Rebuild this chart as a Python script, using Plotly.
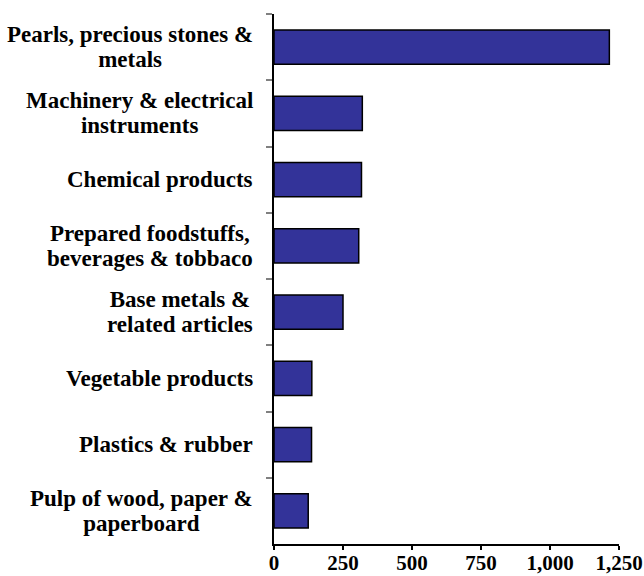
import plotly.graph_objects as go

# Export value by product group (display order, top to bottom)
categories = [
    "Pearls, precious stones &<br>metals",
    "Machinery & electrical<br>instruments",
    "Chemical products",
    "Prepared foodstuffs,<br>beverages & tobbaco",
    "Base metals &<br>related articles",
    "Vegetable products",
    "Plastics & rubber",
    "Pulp of wood, paper &<br>paperboard",
]
values = [1215, 320, 317, 307, 250, 137, 136, 124]
x_ticks = [0, 250, 500, 750, 1000, 1250]

FONT = "Liberation Serif, Times New Roman, serif"

fig = go.Figure(
    go.Bar(
        x=values,
        y=categories,
        orientation="h",
        marker=dict(color="#333399", line=dict(color="#000000", width=1.5)),
    )
)

# Category labels: centred multi-line blocks, right-aligned against the axis
for cat in categories:
    fig.add_annotation(
        x=0, xref="paper", xanchor="right", xshift=-19,
        y=cat, yref="y", yanchor="middle",
        text="<b><span style='font-size:23px'>" + cat + "</span></b>",
        align="center",
        showarrow=False,
        font=dict(family=FONT, size=19, color="#000000"),
    )

fig.update_layout(
    width=644,
    height=576,
    margin=dict(l=274, r=25, t=14, b=32),
    paper_bgcolor="white",
    plot_bgcolor="white",
    bargap=0.48,
    showlegend=False,
    font=dict(family=FONT, color="#000000"),
)

fig.update_xaxes(
    range=[0, 1250],
    tickvals=x_ticks,
    tickformat=",",
    tickfont=dict(family=FONT, size=21, color="#000000", weight="bold"),
    ticks="outside",
    ticklen=4,
    tickwidth=1.5,
    tickcolor="#000000",
    ticklabelstandoff=-5,
    ticklabeloverflow="allow",
    showline=True,
    linecolor="#000000",
    linewidth=2,
    showgrid=False,
    zeroline=False,
    automargin=False,
)

fig.update_yaxes(
    autorange="reversed",
    showticklabels=False,
    ticks="outside",
    tickson="boundaries",
    ticklen=6,
    tickwidth=1.5,
    tickcolor="#808080",
    showline=True,
    linecolor="#000000",
    linewidth=2,
    showgrid=False,
    zeroline=False,
    automargin=False,
)

fig.write_html("out.html")
